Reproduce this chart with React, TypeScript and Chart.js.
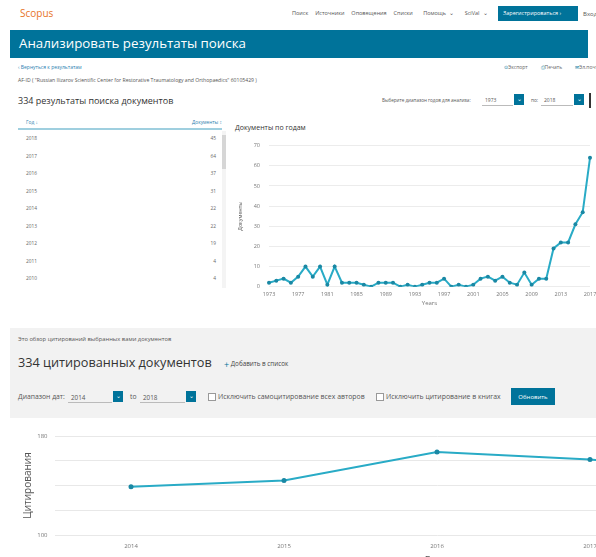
import React, { useEffect, useRef } from "react";
import { Chart, registerables } from "chart.js";

Chart.register(...registerables);

// ---- Data ----
const docYears = [
  "1973", "1974", "1975", "1976", "1977", "1978", "1979", "1980", "1981", "1982",
  "1983", "1984", "1985", "1986", "1987", "1988", "1989", "1990", "1991", "1992",
  "1993", "1994", "1995", "1996", "1997", "1998", "1999", "2000", "2001", "2002",
  "2003", "2004", "2005", "2006", "2007", "2008", "2009", "2010", "2011", "2012",
  "2013", "2014", "2015", "2016", "2017",
];
const docCounts = [
  2, 3, 4, 2, 5, 10, 5, 10, 1, 10,
  2, 2, 2, 1, 0, 2, 2, 2, 0, 1,
  0, 1, 2, 2, 4, 0, 1, 0, 1, 4,
  5, 3, 5, 2, 1, 7, 1, 4, 4, 19,
  22, 22, 31, 37, 64,
];
const tableYears = ["2018", "2017", "2016", "2015", "2014", "2013", "2012", "2011", "2010"];
const tableCounts = [45, 64, 37, 31, 22, 22, 19, 4, 4];

const citeYears = ["2014", "2015", "2016", "2017", "2018"];
const citeCounts = [139, 144, 167, 161, 150];

const FONT = "'Open Sans', 'Noto Sans', sans-serif";
const BLUE = "#00739a";
const LINE = "#29abc6";
const POINT = "#1a88a4";

function DocsChart() {
  const ref = useRef<HTMLCanvasElement | null>(null);
  useEffect(() => {
    if (!ref.current) return;
    const chart = new Chart(ref.current, {
      type: "line",
      data: {
        labels: docYears,
        datasets: [
          {
            data: docCounts,
            borderColor: LINE,
            borderWidth: 2,
            pointRadius: 2,
            pointBackgroundColor: POINT,
            pointBorderColor: POINT,
            pointBorderWidth: 0,
            tension: 0,
          },
        ],
      },
      options: {
        responsive: false,
        animation: false,
        devicePixelRatio: 1,
        layout: { padding: { left: 0, right: 20, top: 27.7, bottom: 0 } },
        plugins: { legend: { display: false }, tooltip: { enabled: false } },
        scales: {
          x: {
            grid: { display: false, drawTicks: false },
            border: { display: false },
            ticks: {
              autoSkip: false,
              maxRotation: 0,
              padding: 4,
              color: "#777",
              font: { family: FONT, size: 5.5 },
              callback: (_v: any, i: number) => (i % 4 === 0 ? docYears[i] : ""),
            },
            title: {
              display: true,
              text: "Years",
              color: "#777",
              font: { family: FONT, size: 6 },
              padding: { top: 0, bottom: 3.4 },
            },
            afterFit: (s: any) => {
              s.height = 23.3;
            },
          },
          y: {
            min: 0,
            max: 70,
            grid: { color: "#ececec", drawTicks: false },
            border: { display: false },
            ticks: {
              stepSize: 10,
              padding: 9,
              color: "#777",
              font: { family: FONT, size: 5.5 },
            },
            title: {
              display: true,
              text: "Документы",
              color: "#555",
              font: { family: FONT, size: 5.3 },
              padding: { top: 9, bottom: 0 },
            },
            afterFit: (s: any) => {
              s.width = 41;
            },
          },
        },
      },
    });
    return () => chart.destroy();
  }, []);
  return (
    <canvas
      ref={ref}
      width={382}
      height={192}
      style={{ position: "absolute", left: 228, top: 118, width: 382, height: 192 }}
    />
  );
}

function CiteChart() {
  const ref = useRef<HTMLCanvasElement | null>(null);
  useEffect(() => {
    if (!ref.current) return;
    const chart = new Chart(ref.current, {
      type: "line",
      data: {
        labels: citeYears,
        datasets: [
          {
            data: citeCounts,
            borderColor: LINE,
            borderWidth: 2,
            pointRadius: 2.5,
            pointBackgroundColor: POINT,
            pointBorderColor: POINT,
            pointBorderWidth: 0,
            tension: 0,
          },
        ],
      },
      options: {
        responsive: false,
        animation: false,
        devicePixelRatio: 1,
        layout: { padding: { left: 0, right: 10.5, top: 16, bottom: 0 } },
        plugins: { legend: { display: false }, tooltip: { enabled: false } },
        scales: {
          x: {
            offset: true,
            grid: { display: false, drawTicks: false },
            border: { display: false },
            ticks: {
              maxRotation: 0,
              padding: 8,
              color: "#777",
              font: { family: FONT, size: 6 },
            },
            title: {
              display: true,
              text: "Годы",
              color: "#555",
              font: { family: FONT, size: 10 },
              padding: { top: 0, bottom: 3 },
            },
            afterFit: (s: any) => {
              s.height = 35;
            },
          },
          y: {
            min: 100,
            max: 180,
            grid: { color: "#e8e8e8", drawTicks: false },
            border: { display: false },
            ticks: {
              stepSize: 20,
              padding: 7,
              color: "#777",
              font: { family: FONT, size: 6 },
              callback: (v: any) => (v === 100 || v === 180 ? String(v) : ""),
            },
            title: {
              display: true,
              text: "Цитирования",
              color: "#555",
              font: { family: FONT, size: 10 },
              padding: { top: 22, bottom: 0 },
            },
            afterFit: (s: any) => {
              s.width = 54.5;
            },
          },
        },
      },
    });
    return () => chart.destroy();
  }, []);
  return (
    <canvas
      ref={ref}
      width={830}
      height={150}
      style={{ position: "absolute", left: 0, top: 420, width: 830, height: 150 }}
    />
  );
}

const abs = (left: number, top: number, extra: React.CSSProperties = {}): React.CSSProperties => ({
  position: "absolute",
  left,
  top,
  whiteSpace: "nowrap",
  lineHeight: 1,
  ...extra,
});

function SelectBox({
  left,
  top,
  width,
  value,
  size = 5.5,
}: {
  left: number;
  top: number;
  width: number;
  value: string;
  size?: number;
}) {
  return (
    <>
      <div
        style={abs(left, top, {
          width,
          height: 11,
          borderBottom: "1px solid #bbb",
          fontSize: size,
          color: "#555",
          paddingLeft: 3,
          paddingTop: 3,
          boxSizing: "border-box",
        })}
      >
        {value}
      </div>
      <div
        style={abs(left + width + 1, top - 1, {
          width: 10,
          height: 11,
          background: BLUE,
          color: "#fff",
          fontSize: 6,
          textAlign: "center",
          paddingTop: 2,
          boxSizing: "border-box",
        })}
      >
        ⌄
      </div>
    </>
  );
}

export default function App() {
  const rowTops = [136, 154, 171, 189, 206, 224, 241, 259, 276];
  return (
    <div
      style={{
        position: "absolute",
        left: 0,
        top: 0,
        width: 596,
        height: 557,
        overflow: "hidden",
        background: "#fff",
        fontFamily: FONT,
        color: "#333",
      }}
    >
      {/* Top bar */}
      <div style={abs(20, 8, { fontSize: 10, color: "#e8741f" })}>Scopus</div>
      <div style={abs(292, 11, { fontSize: 5.5, color: "#555", wordSpacing: 2 })}>
        Поиск&nbsp; Источники&nbsp; Оповещения&nbsp; Списки&nbsp;&nbsp; Помощь ⌄&nbsp;&nbsp; SciVal ⌄
      </div>
      <div
        style={abs(498, 6, {
          width: 80,
          height: 15,
          background: BLUE,
          color: "#fff",
          fontSize: 5.5,
          paddingTop: 5,
          paddingLeft: 5,
          boxSizing: "border-box",
        })}
      >
        Зарегистрироваться ›
      </div>
      <div style={abs(583, 11, { fontSize: 6, color: "#555" })}>Вход</div>

      {/* Banner */}
      <div style={abs(10, 30, { width: 578, height: 28, background: BLUE })} />
      <div style={abs(19, 37, { fontSize: 13.3, color: "#fff" })}>Анализировать результаты поиска</div>

      <div style={abs(18, 65, { fontSize: 5, color: "#2c7fb0" })}>‹ Вернуться к результатам</div>
      <div style={abs(504, 65, { fontSize: 5, color: "#666", wordSpacing: 3 })}>
        <span style={{ color: BLUE }}>⊙</span>Экспорт&nbsp;&nbsp; <span style={{ color: BLUE }}>⎙</span>Печать&nbsp;&nbsp;{" "}
        <span style={{ color: BLUE }}>✉</span>Эл.почта
      </div>
      <div style={abs(18, 78, { fontSize: 5.1, color: "#555" })}>
        AF-ID ( "Russian Ilizarov Scientific Center for Restorative Traumatology and Orthopaedics" 60105429 )
      </div>

      <div style={abs(18, 96, { fontSize: 9, color: "#333" })}>334 результаты поиска документов</div>
      <div style={abs(382, 98, { fontSize: 4.6, color: "#555" })}>Выберите диапазон годов для анализа:</div>
      <SelectBox left={482} top={95} width={31} value="1973" size={5} />
      <div style={abs(531, 98, { fontSize: 4.8, color: "#555" })}>по:</div>
      <SelectBox left={541} top={95} width={32} value="2018" size={5} />
      <div style={abs(589, 93, { width: 1.5, height: 15, background: "#333" })} />

      {/* Table */}
      <div style={abs(26, 120, { fontSize: 4.8, color: "#2c7fb0" })}>Год ↓</div>
      <div style={abs(192, 120, { fontSize: 4.8, color: "#2c7fb0" })}>Документы ↕</div>
      <div style={abs(18, 128, { width: 204, height: 1.5, background: "#9fcfdf" })} />
      {tableYears.map((y, i) => (
        <React.Fragment key={y}>
          <div style={abs(26, rowTops[i], { fontSize: 4.8, color: "#666" })}>{y}</div>
          <div style={abs(160, rowTops[i], { width: 56, textAlign: "right", fontSize: 4.8, color: "#666" })}>
            {tableCounts[i]}
          </div>
        </React.Fragment>
      ))}
      <div style={abs(222, 131, { width: 4, height: 157, background: "#f4f4f4" })} />
      <div style={abs(222, 135, { width: 4, height: 34, background: "#d6d6d6" })} />

      {/* Chart 1 */}
      <div style={abs(235, 124, { fontSize: 7, color: "#333" })}>Документы по годам</div>
      <DocsChart />

      {/* Citation overview section */}
      <div style={abs(10, 328, { width: 586, height: 90, background: "#f2f2f2" })} />
      <div style={abs(18, 337, { fontSize: 5.8, color: "#555" })}>Это обзор цитирований выбранных вами документов</div>
      <div style={abs(18, 356, { fontSize: 12.7, color: "#333" })}>334 цитированных документов</div>
      <div style={abs(224, 360, { fontSize: 6.3, color: "#444" })}>
        <span style={{ fontSize: 9, color: BLUE, verticalAlign: "middle" }}>+</span> Добавить в список
      </div>
      <div style={abs(18, 394, { fontSize: 6.8, color: "#555" })}>Диапазон дат:</div>
      <SelectBox left={68} top={392} width={44} value="2014" size={6.3} />
      <div style={abs(130, 394, { fontSize: 6.8, color: "#555" })}>to</div>
      <SelectBox left={140} top={392} width={45} value="2018" size={6.3} />
      <div style={abs(208, 393, { width: 6, height: 6, border: "1px solid #999", background: "#fff" })} />
      <div style={abs(218, 394, { fontSize: 6.9, color: "#555" })}>Исключить самоцитирование всех авторов</div>
      <div style={abs(376, 393, { width: 6, height: 6, border: "1px solid #999", background: "#fff" })} />
      <div style={abs(386, 394, { fontSize: 6.9, color: "#555" })}>Исключить цитирование в книгах</div>
      <div
        style={abs(511, 388, {
          width: 44,
          height: 17,
          background: BLUE,
          color: "#fff",
          fontSize: 6,
          paddingTop: 5.5,
          textAlign: "center",
          boxSizing: "border-box",
        })}
      >
        Обновить
      </div>

      {/* Chart 2 */}
      <CiteChart />
    </div>
  );
}
